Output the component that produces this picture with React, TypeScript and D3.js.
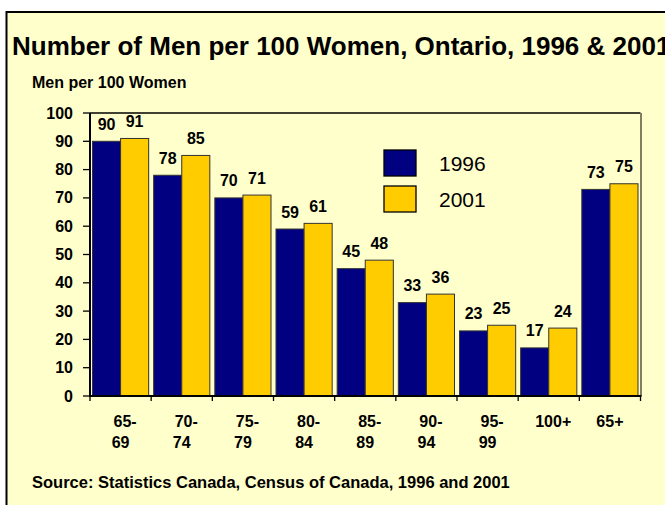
import React from "react";
import * as d3 from "d3";

// age groups, two lines each
const groups = ["65-69", "70-74", "75-79", "80-84", "85-89", "90-94", "95-99", "100+", "65+"];
const labelTop = ["65-", "70-", "75-", "80-", "85-", "90-", "95-", "100+", "65+"];
const labelBottom = ["69", "74", "79", "84", "89", "94", "99", "", ""];
const years = ["1996", "2001"];
const men1996 = [90, 78, 70, 59, 45, 33, 23, 17, 73];
const men2001 = [91, 85, 71, 61, 48, 36, 25, 24, 75];
const yTicks = [0, 10, 20, 30, 40, 50, 60, 70, 80, 90, 100];

const colors = ["#000080", "#FFCC00"];
const bg = "#FFFFCC";
const font = "'Liberation Sans', Arial, sans-serif";

export default function App() {
  const W = 665;
  const H = 505;
  const left = 90;
  const right = 640.5;
  const top = 113;
  const bottom = 396;

  const x = d3.scaleBand<string>().domain(groups).range([left, right]).padding(0);
  const inner = d3
    .scaleBand<string>()
    .domain(years)
    .range([2.5, x.bandwidth() - 2.5])
    .padding(0);
  const y = d3.scaleLinear().domain([0, 100]).range([bottom, top]);

  const series = [men1996, men2001];

  return (
    <svg width={W} height={H} style={{ position: "absolute", left: 0, top: 0 }} fontFamily={font}>
      <rect x={0} y={0} width={W} height={H} fill="#fff" />
      <rect x={6.5} y={12} width={W + 10} height={H + 10} fill={bg} stroke="#000" strokeWidth={2} />

      <text x={12} y={55} fontSize={26} fontWeight="bold" fill="#000">
        Number of Men per 100 Women, Ontario, 1996 &amp; 2001
      </text>
      <text x={32} y={88} fontSize={16} fontWeight="bold" fill="#000">
        Men per 100 Women
      </text>

      {/* plot frame */}
      <line x1={left} x2={right} y1={top} y2={top} stroke="#000" strokeWidth={1.3} />
      <line x1={right + 0.5} x2={right + 0.5} y1={top} y2={bottom} stroke="#808060" strokeWidth={2} />

      {/* bars */}
      {series.map((vals, si) =>
        vals.map((v, i) => {
          const bx = (x(groups[i]) as number) + (inner(years[si]) as number);
          const bw = inner.bandwidth();
          return (
            <g key={`${si}-${i}`}>
              <rect
                x={bx}
                y={y(v)}
                width={bw}
                height={bottom - y(v)}
                fill={colors[si]}
                stroke="#333"
                strokeWidth={1}
              />
              <text
                x={bx + bw / 2}
                y={y(v) - 11.5}
                textAnchor="middle"
                fontSize={16}
                fontWeight="bold"
                fill="#000"
              >
                {v}
              </text>
            </g>
          );
        })
      )}

      {/* y axis */}
      <line x1={left} x2={left} y1={top} y2={bottom + 1} stroke="#000" strokeWidth={2} />
      {yTicks.map((t) => (
        <g key={t}>
          <line x1={left - 7} x2={left} y1={y(t)} y2={y(t)} stroke="#000" strokeWidth={1.3} />
          <text
            x={left - 17}
            y={y(t) + 5.5}
            textAnchor="end"
            fontSize={16}
            fontWeight="bold"
            fill="#000"
          >
            {t}
          </text>
        </g>
      ))}

      {/* x axis */}
      <line x1={left} x2={right + 1} y1={bottom} y2={bottom} stroke="#000" strokeWidth={2} />
      {groups.map((g) => (
        <line
          key={g}
          x1={x(g) as number}
          x2={x(g) as number}
          y1={bottom}
          y2={bottom + 5}
          stroke="#000"
          strokeWidth={1.3}
        />
      ))}
      <line x1={right} x2={right} y1={bottom} y2={bottom + 5} stroke="#000" strokeWidth={1.3} />
      {groups.map((g, i) => {
        const cx = (x(g) as number) + x.bandwidth() / 2;
        return (
          <g key={`l-${g}`} fontSize={16} fontWeight="bold" fill="#000">
            <text x={cx + (i === 8 ? 0 : 4.5)} y={427} textAnchor="middle">
              {labelTop[i]}
            </text>
            <text x={cx} y={448} textAnchor="middle">
              {labelBottom[i]}
            </text>
          </g>
        );
      })}

      {/* legend */}
      {years.map((yr, i) => (
        <g key={yr}>
          <rect
            x={384}
            y={150 + i * 36}
            width={32}
            height={26}
            fill={colors[i]}
            stroke="#000"
            strokeWidth={1.3}
          />
          <text x={439} y={171 + i * 36} fontSize={21} fill="#000">
            {yr}
          </text>
        </g>
      ))}

      <text x={32} y={488} fontSize={16.5} fontWeight="bold" fill="#000">
        Source: Statistics Canada, Census of Canada, 1996 and 2001
      </text>
    </svg>
  );
}
